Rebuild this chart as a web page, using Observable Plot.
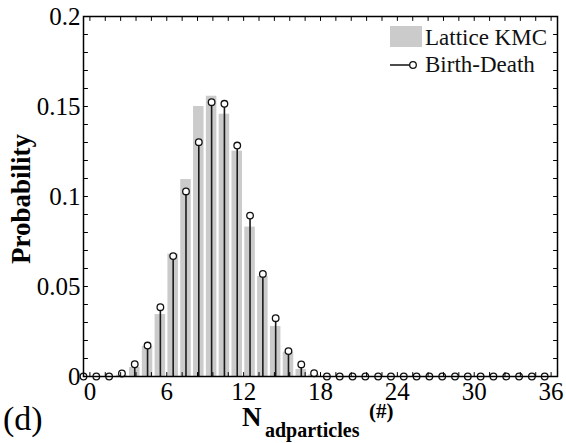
<!DOCTYPE html>
<html>
<head>
<meta charset="utf-8">
<script src="https://cdn.jsdelivr.net/npm/d3@7"></script>
<script src="https://cdn.jsdelivr.net/npm/@observablehq/plot@0.6"></script>
<style>
  html, body { margin: 0; padding: 0; background: white; }
  #chart { width: 566px; height: 443px; }
</style>
</head>
<body>
<div id="chart"></div>
<script>
// Bin positions as drawn (stems sit half a unit left of the integer ticks)
const binCenters = [-0.5, 0.5, 1.5, 2.5, 3.5, 4.5, 5.5, 6.5, 7.5, 8.5, 9.5, 10.5, 11.5, 12.5, 13.5, 14.5, 15.5, 16.5, 17.5,
  18.5, 19.5, 20.5, 21.5, 22.5, 23.5, 24.5, 25.5, 26.5, 27.5, 28.5, 29.5, 30.5, 31.5, 32.5, 33.5, 34.5, 35.5];

// Lattice KMC (grey bars)
const latticeKMC = [0, 0, 0, 0.0008, 0.005, 0.0167, 0.0344, 0.068, 0.1094, 0.150, 0.1557, 0.1457, 0.1252, 0.083, 0.0556,
  0.0278, 0.0135, 0.0039, 0.001, 0, 0, 0, 0, 0, 0, 0, 0, 0, 0, 0, 0, 0, 0, 0, 0, 0, 0];

// Birth-Death (stems with circles)
const birthDeath = [0, 0, 0, 0.0017, 0.0068, 0.0172, 0.0385, 0.0669, 0.1028, 0.1302, 0.1524, 0.1515, 0.1283, 0.0894, 0.0570,
  0.0324, 0.0141, 0.0067, 0.0018, 0, 0, 0, 0, 0, 0, 0, 0, 0, 0, 0, 0, 0, 0, 0, 0, 0, 0];

const xTicks = [0, 6, 12, 18, 24, 30, 36];
const yTicks = [0, 0.05, 0.1, 0.15, 0.2];
const xMinorTicks = d3.range(0, 36.01, 1.2);
const yMinorTicks = d3.range(0, 0.2001, 0.01);

const seriesNames = ["Lattice KMC", "Birth-Death"];

const kmcData = binCenters.map((x, i) => ({x, p: latticeKMC[i]}));
const bdData = binCenters.map((x, i) => ({x, p: birthDeath[i]}));

const tickShape = {draw(context, l) { context.moveTo(0, 0); context.lineTo(0, -l); }};
const TL = 4;
const serif = "Liberation Serif";

const chart = Plot.plot({
  width: 566,
  height: 443,
  marginLeft: 83,
  marginRight: 9,
  marginTop: 16,
  marginBottom: 67,
  style: {fontFamily: serif, fontSize: "25px", color: "black", background: "white", overflow: "visible"},
  x: {domain: [-0.5, 36.5]},
  y: {domain: [0, 0.2]},
  marks: [
    Plot.rectY(kmcData, {x1: d => d.x - 0.41, x2: d => d.x + 0.41, y1: 0, y2: "p", fill: "#cbcbcb"}),
    Plot.ruleX(bdData, {x: "x", y1: 0, y2: "p", stroke: "#1a1a1a", strokeWidth: 1.6}),
    Plot.dot(bdData, {x: "x", y: "p", r: 3.3, stroke: "#111", strokeWidth: 1.3, fill: "white"}),
    // inward tick marks (minor + major) on all four sides
    Plot.vector(xMinorTicks, {x: d => d, frameAnchor: "bottom", length: TL, rotate: 0, anchor: "start", shape: tickShape, stroke: "black", strokeWidth: 1}),
    Plot.vector(xMinorTicks, {x: d => d, frameAnchor: "top", length: TL, rotate: 180, anchor: "start", shape: tickShape, stroke: "black", strokeWidth: 1}),
    Plot.vector(yMinorTicks, {y: d => d, frameAnchor: "left", length: TL, rotate: 90, anchor: "start", shape: tickShape, stroke: "black", strokeWidth: 1}),
    Plot.vector(yMinorTicks, {y: d => d, frameAnchor: "right", length: TL, rotate: -90, anchor: "start", shape: tickShape, stroke: "black", strokeWidth: 1}),
    Plot.axisX({ticks: xTicks, tickSize: 0, tickPadding: 6, label: null, tickFormat: d => String(d)}),
    Plot.axisY({ticks: yTicks, tickSize: 0, tickPadding: 3, label: null, tickFormat: d => String(d)}),
    Plot.frame({stroke: "black", strokeWidth: 1.5})
  ]
});

document.getElementById("chart").appendChild(chart);

const svg = d3.select(chart);

// Legend
svg.append("rect").attr("x", 390).attr("y", 26).attr("width", 32).attr("height", 21).attr("fill", "#cbcbcb");
svg.append("text").attr("x", 425).attr("y", 44.5).attr("text-anchor", "start").attr("font-family", serif).attr("font-size", 23).attr("fill", "#111").text(seriesNames[0]);
svg.append("line").attr("x1", 390).attr("x2", 410).attr("y1", 65).attr("y2", 65).attr("stroke", "#111").attr("stroke-width", 1.5);
svg.append("circle").attr("cx", 413).attr("cy", 65).attr("r", 3.3).attr("fill", "white").attr("stroke", "#111").attr("stroke-width", 1.3);
svg.append("text").attr("x", 425).attr("y", 72).attr("text-anchor", "start").attr("font-family", serif).attr("font-size", 23).attr("fill", "#111").text(seriesNames[1]);

// Y label
svg.append("text")
  .attr("transform", "translate(30,199) rotate(-90)")
  .attr("text-anchor", "middle")
  .attr("font-family", serif).attr("font-weight", "bold").attr("font-size", 27)
  .text("Probability");

// X label with subscript
const xl = svg.append("text").attr("text-anchor", "start").attr("font-family", serif).attr("font-weight", "bold");
xl.append("tspan").attr("x", 242).attr("y", 426).attr("font-size", 27).text("N");
xl.append("tspan").attr("x", 265).attr("y", 437).attr("font-size", 20).text("adparticles");
xl.append("tspan").attr("x", 369).attr("y", 418).attr("font-size", 21).text("(#)");

// Panel label
svg.append("text").attr("x", 3).attr("y", 430).attr("text-anchor", "start").attr("font-family", serif).attr("font-size", 34).text("(d)");
</script>
</body>
</html>
